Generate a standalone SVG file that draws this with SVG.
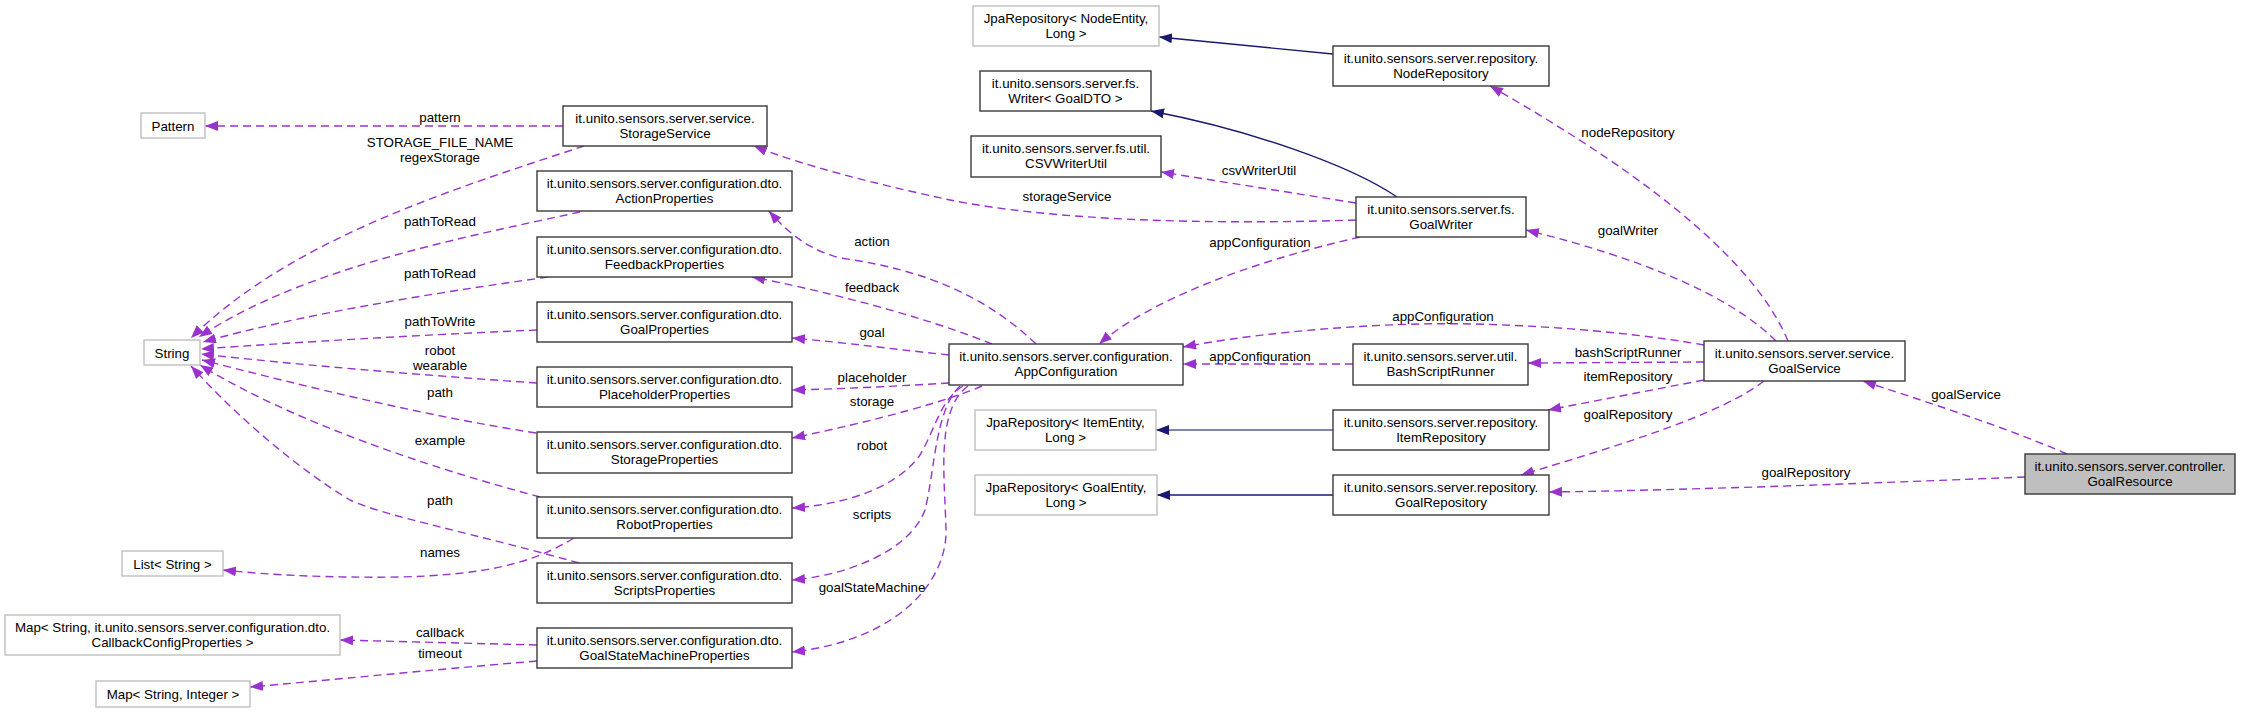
<svg xmlns="http://www.w3.org/2000/svg" width="2248" height="713" viewBox="0 0 2248 713">
<defs>
<style>
text{font-family:"Liberation Sans",Arial,Helvetica,sans-serif;font-size:13.33px;fill:#000;text-anchor:middle}
.box{fill:#fff;stroke:#3a3a3a;stroke-width:1.4}
.ext{fill:#fff;stroke:#bfbfbf;stroke-width:1.4}
.sel{fill:#bfbfbf;stroke:#3a3a3a;stroke-width:1.4}
.u{fill:none;stroke:#9a32cd;stroke-width:1.4;stroke-dasharray:8,5;marker-end:url(#pa)}
.g{fill:none;stroke:#191970;stroke-width:1.4;marker-end:url(#na)}
</style>
<marker id="pa" markerUnits="userSpaceOnUse" markerWidth="14" markerHeight="11" refX="13" refY="5" orient="auto"><path d="M0,0 L13,5 L0,10 z" fill="#9a32cd"/></marker>
<marker id="na" markerUnits="userSpaceOnUse" markerWidth="14" markerHeight="11" refX="13" refY="5" orient="auto"><path d="M0,0 L13,5 L0,10 z" fill="#191970"/></marker>
</defs>
<rect width="2248" height="713" fill="#fff"/>

<g id="edges">
<path class="u" d="M563,126 L205,126"/>
<path class="u" d="M584,146 C450,190 290,240 191,338"/>
<path class="u" d="M580,212 C450,240 300,270 199,337"/>
<path class="u" d="M548,277 C420,295 300,315 203,342"/>
<path class="u" d="M537,330 C420,335 300,342 201,349"/>
<path class="u" d="M537,383 C420,375 300,365 201,354"/>
<path class="u" d="M536,433 C420,415 300,385 202,360"/>
<path class="u" d="M540,497 C420,465 290,420 200,365"/>
<path class="u" d="M579,563 C480,535 380,515 350,500 C300,470 240,420 191,366"/>
<path class="u" d="M574,538 C530,565 480,575 400,577 C330,578 270,575 223,570"/>
<path class="u" d="M537,645 L340,640"/>
<path class="u" d="M537,661 C430,670 330,680 250,687"/>

<path class="u" d="M1036,344 C990,300 930,270 840,258 C810,250 790,235 769,211"/>
<path class="u" d="M992,344 C920,315 820,290 752,277"/>
<path class="u" d="M949,355 C900,350 850,343 792,338"/>
<path class="u" d="M949,383 C900,386 840,389 792,390"/>
<path class="u" d="M982,386 C950,400 880,420 792,438"/>
<path class="u" d="M963,386 C940,400 935,430 920,455 C895,490 840,505 792,508"/>
<path class="u" d="M960,386 C935,410 935,470 925,510 C910,550 850,575 792,580"/>
<path class="u" d="M968,386 C935,410 945,480 946,530 C947,580 900,640 792,652"/>

<path class="u" d="M1356,220 C1200,225 1050,220 950,200 C880,185 800,165 754,146"/>
<path class="u" d="M1356,203 L1161,172"/>
<path class="u" d="M1360,237 C1250,262 1150,300 1099,344"/>
<path class="u" d="M1704,345 C1620,330 1500,322 1420,324 C1330,326 1240,336 1183,347"/>
<path class="u" d="M1353,364 L1183,364"/>

<path class="g" d="M1333,54 L1159,37"/>
<path class="g" d="M1397,197 C1350,165 1250,130 1151,111"/>
<path class="g" d="M1333,430 L1156,430" style="stroke:#5a5a96"/>
<path class="g" d="M1333,495 L1157,495"/>

<path class="u" d="M1788,341 C1750,250 1620,160 1490,86"/>
<path class="u" d="M1776,341 C1730,295 1640,258 1526,230"/>
<path class="u" d="M1704,362 L1528,363"/>
<path class="u" d="M1704,380 L1548,410"/>
<path class="u" d="M1764,381 C1720,415 1620,445 1521,475"/>
<path class="u" d="M2067,454 C2000,425 1920,400 1863,381"/>
<path class="u" d="M2025,477 C1900,482 1700,490 1549,492"/>

<text x="440" y="121.5">pattern</text>
<text x="440" y="146.5">STORAGE_FILE_NAME</text>
<text x="440" y="161.5">regexStorage</text>
<text x="440" y="225.5">pathToRead</text>
<text x="440" y="277.5">pathToRead</text>
<text x="440" y="325.5">pathToWrite</text>
<text x="440" y="354.5">robot</text>
<text x="440" y="369.5">wearable</text>
<text x="440" y="396.5">path</text>
<text x="440" y="444.5">example</text>
<text x="440" y="504.5">path</text>
<text x="440" y="556.5">names</text>
<text x="440" y="636.5">callback</text>
<text x="440" y="657.5">timeout</text>
<text x="872" y="245.5">action</text>
<text x="872" y="291.5">feedback</text>
<text x="872" y="336.5">goal</text>
<text x="872" y="381.5">placeholder</text>
<text x="872" y="405.5">storage</text>
<text x="872" y="449.5">robot</text>
<text x="872" y="518.5">scripts</text>
<text x="872" y="591.5">goalStateMachine</text>
<text x="1067" y="200.5">storageService</text>
<text x="1259" y="174.5">csvWriterUtil</text>
<text x="1260" y="246.5">appConfiguration</text>
<text x="1443" y="320.5">appConfiguration</text>
<text x="1260" y="360.5">appConfiguration</text>
<text x="1628" y="136.5">nodeRepository</text>
<text x="1628" y="234.5">goalWriter</text>
<text x="1628" y="356.5">bashScriptRunner</text>
<text x="1628" y="380.5">itemRepository</text>
<text x="1628" y="418.5">goalRepository</text>
<text x="1966" y="398.5">goalService</text>
<text x="1806" y="476.5">goalRepository</text>
</g>

<g id="Pattern"><rect class="ext" x="141" y="113" width="64" height="25"/><text x="173" y="130.5">Pattern</text></g>
<g id="String"><rect class="ext" x="144" y="340" width="56" height="25"/><text x="172" y="357.5">String</text></g>
<g id="ListString"><rect class="ext" x="122" y="551" width="101" height="25"/><text x="172.5" y="568.5">List&lt; String &gt;</text></g>
<g id="MapCallback"><rect class="ext" x="5" y="615" width="335" height="40"/><text x="172.5" y="631.5">Map&lt; String, it.unito.sensors.server.configuration.dto.</text><text x="172.5" y="646.5">CallbackConfigProperties &gt;</text></g>
<g id="MapInteger"><rect class="ext" x="96" y="681" width="154" height="26"/><text x="173" y="698.5">Map&lt; String, Integer &gt;</text></g>

<g id="StorageService"><rect class="box" x="563" y="106" width="204" height="40"/><text x="665" y="122.5">it.unito.sensors.server.service.</text><text x="665" y="137.5">StorageService</text></g>
<g id="ActionProperties"><rect class="box" x="537" y="171" width="255" height="40"/><text x="664.5" y="187.5">it.unito.sensors.server.configuration.dto.</text><text x="664.5" y="202.5">ActionProperties</text></g>
<g id="FeedbackProperties"><rect class="box" x="537" y="237" width="255" height="40"/><text x="664.5" y="253.5">it.unito.sensors.server.configuration.dto.</text><text x="664.5" y="268.5">FeedbackProperties</text></g>
<g id="GoalProperties"><rect class="box" x="537" y="302" width="255" height="40"/><text x="664.5" y="318.5">it.unito.sensors.server.configuration.dto.</text><text x="664.5" y="333.5">GoalProperties</text></g>
<g id="PlaceholderProperties"><rect class="box" x="537" y="367" width="255" height="40"/><text x="664.5" y="383.5">it.unito.sensors.server.configuration.dto.</text><text x="664.5" y="398.5">PlaceholderProperties</text></g>
<g id="StorageProperties"><rect class="box" x="537" y="432" width="255" height="41"/><text x="664.5" y="448.5">it.unito.sensors.server.configuration.dto.</text><text x="664.5" y="463.5">StorageProperties</text></g>
<g id="RobotProperties"><rect class="box" x="537" y="497" width="255" height="41"/><text x="664.5" y="513.5">it.unito.sensors.server.configuration.dto.</text><text x="664.5" y="528.5">RobotProperties</text></g>
<g id="ScriptsProperties"><rect class="box" x="537" y="563" width="255" height="40"/><text x="664.5" y="579.5">it.unito.sensors.server.configuration.dto.</text><text x="664.5" y="594.5">ScriptsProperties</text></g>
<g id="GoalStateMachineProperties"><rect class="box" x="537" y="628" width="255" height="40"/><text x="664.5" y="644.5">it.unito.sensors.server.configuration.dto.</text><text x="664.5" y="659.5">GoalStateMachineProperties</text></g>

<g id="JpaNode"><rect class="ext" x="973" y="6" width="186" height="40"/><text x="1066" y="22.5">JpaRepository&lt; NodeEntity,</text><text x="1066" y="37.5">Long &gt;</text></g>
<g id="Writer"><rect class="box" x="980" y="71" width="171" height="40"/><text x="1065.5" y="87.5">it.unito.sensors.server.fs.</text><text x="1065.5" y="102.5">Writer&lt; GoalDTO &gt;</text></g>
<g id="CSVWriterUtil"><rect class="box" x="971" y="136" width="190" height="41"/><text x="1066" y="152.5">it.unito.sensors.server.fs.util.</text><text x="1066" y="167.5">CSVWriterUtil</text></g>
<g id="AppConfiguration"><rect class="box" x="949" y="344" width="234" height="41"/><text x="1066" y="360.5">it.unito.sensors.server.configuration.</text><text x="1066" y="375.5">AppConfiguration</text></g>
<g id="JpaItem"><rect class="ext" x="975" y="410" width="181" height="40"/><text x="1065.5" y="426.5">JpaRepository&lt; ItemEntity,</text><text x="1065.5" y="441.5">Long &gt;</text></g>
<g id="JpaGoal"><rect class="ext" x="975" y="475" width="182" height="40"/><text x="1066" y="491.5">JpaRepository&lt; GoalEntity,</text><text x="1066" y="506.5">Long &gt;</text></g>

<g id="NodeRepository"><rect class="box" x="1333" y="46" width="216" height="40"/><text x="1441" y="62.5">it.unito.sensors.server.repository.</text><text x="1441" y="77.5">NodeRepository</text></g>
<g id="GoalWriter"><rect class="box" x="1356" y="197" width="170" height="40"/><text x="1441" y="213.5">it.unito.sensors.server.fs.</text><text x="1441" y="228.5">GoalWriter</text></g>
<g id="BashScriptRunner"><rect class="box" x="1353" y="344" width="175" height="41"/><text x="1440.5" y="360.5">it.unito.sensors.server.util.</text><text x="1440.5" y="375.5">BashScriptRunner</text></g>
<g id="ItemRepository"><rect class="box" x="1333" y="410" width="216" height="40"/><text x="1441" y="426.5">it.unito.sensors.server.repository.</text><text x="1441" y="441.5">ItemRepository</text></g>
<g id="GoalRepository"><rect class="box" x="1333" y="475" width="216" height="40"/><text x="1441" y="491.5">it.unito.sensors.server.repository.</text><text x="1441" y="506.5">GoalRepository</text></g>

<g id="GoalService"><rect class="box" x="1704" y="341" width="201" height="40"/><text x="1804.5" y="357.5">it.unito.sensors.server.service.</text><text x="1804.5" y="372.5">GoalService</text></g>
<g id="GoalResource"><rect class="sel" x="2025" y="454" width="210" height="40"/><text x="2130" y="470.5">it.unito.sensors.server.controller.</text><text x="2130" y="485.5">GoalResource</text></g>
</svg>
